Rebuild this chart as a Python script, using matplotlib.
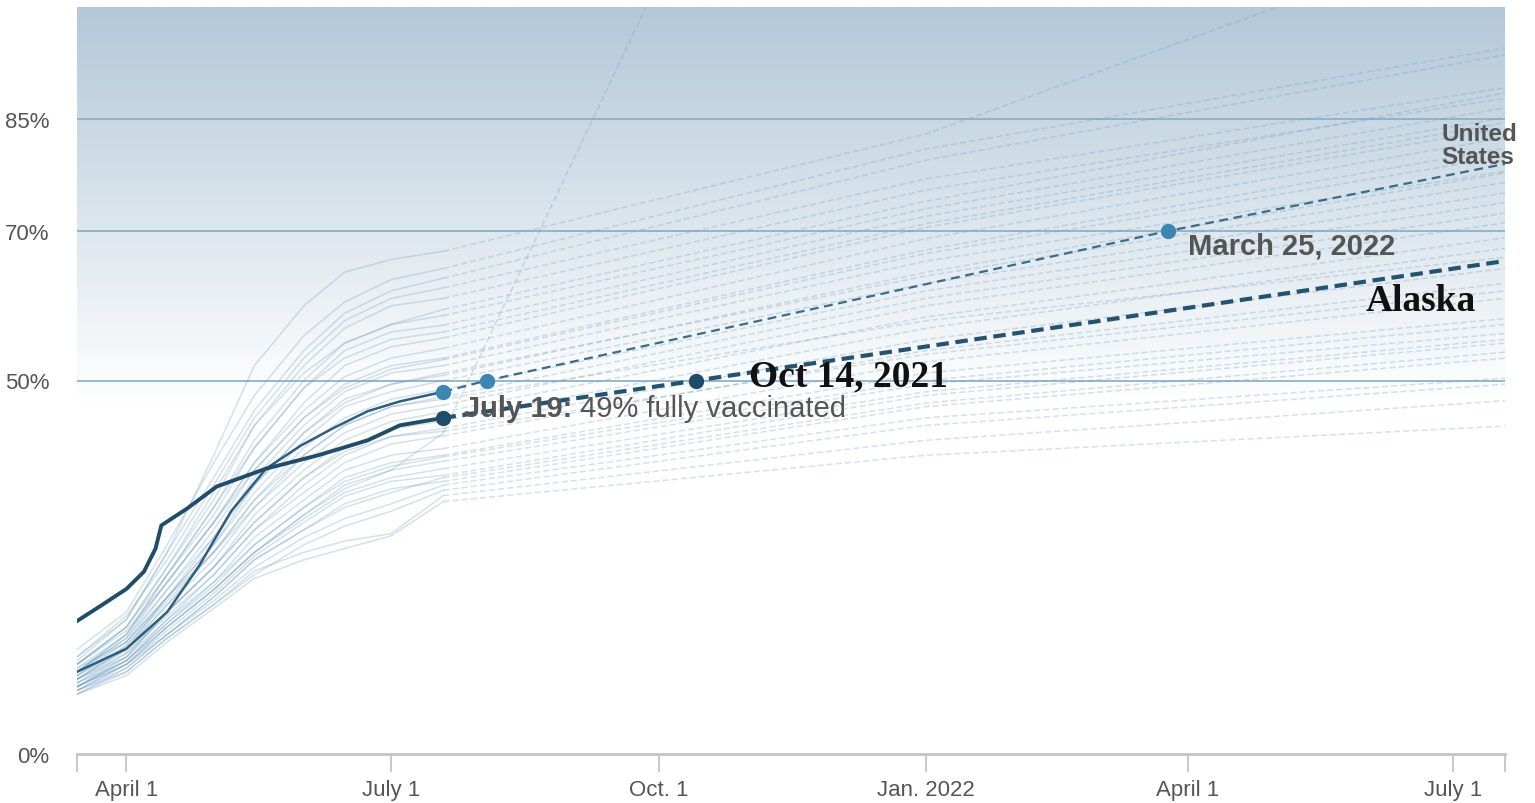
import numpy as np
import pandas as pd
import matplotlib
matplotlib.use("Agg")
import matplotlib.pyplot as plt
import matplotlib.dates as mdates
from matplotlib.colors import LinearSegmentedColormap

plt.rcParams["font.family"] = ["Liberation Sans", "DejaVu Sans"]

# share of population fully vaccinated (%)
grid_dates = pd.to_datetime(["2021-03-15", "2021-04-01", "2021-04-15", "2021-05-01", "2021-05-15",
                             "2021-06-01", "2021-06-15", "2021-07-01", "2021-07-19"])
proj_dates = pd.to_datetime(["2021-07-19", "2022-01-01", "2022-07-19"])

state_values = [
    [13.0, 18.0, 27.0, 40.0, 52.0, 60.0, 64.5, 66.2, 67.3],
    [14.0, 19.0, 28.0, 39.0, 48.0, 56.0, 60.5, 63.5, 65.0],
    [12.5, 18.0, 27.0, 37.0, 46.0, 54.0, 59.0, 62.0, 63.7],
    [13.0, 18.5, 26.0, 36.0, 45.0, 53.0, 58.0, 61.0, 62.4],
    [12.0, 17.0, 25.0, 34.0, 44.0, 52.0, 57.0, 60.0, 61.0],
    [12.0, 17.0, 25.0, 35.0, 44.0, 51.0, 55.0, 57.5, 59.5],
    [11.5, 16.0, 24.0, 33.0, 42.0, 50.0, 55.0, 57.5, 58.7],
    [12.0, 17.0, 24.0, 32.0, 41.0, 49.0, 54.0, 56.5, 57.4],
    [11.0, 16.0, 24.0, 33.0, 41.0, 49.0, 53.0, 55.5, 56.5],
    [11.0, 16.0, 23.0, 31.0, 39.0, 47.0, 52.0, 54.5, 55.7],
    [12.0, 16.5, 23.0, 31.0, 39.0, 46.0, 50.5, 53.0, 54.3],
    [10.5, 15.0, 22.0, 30.0, 38.0, 45.0, 49.5, 52.0, 53.0],
    [11.0, 15.5, 23.0, 31.0, 38.0, 45.0, 49.0, 51.5, 52.8],
    [11.0, 15.5, 22.0, 29.0, 37.0, 44.0, 48.5, 51.0, 52.0],
    [10.0, 14.0, 21.0, 29.0, 36.0, 43.0, 47.0, 49.5, 51.0],
    [11.5, 15.0, 21.0, 28.0, 36.0, 43.0, 47.5, 49.5, 50.7],
    [10.0, 14.5, 21.0, 28.0, 35.0, 42.0, 46.5, 48.5, 50.0],
    [10.5, 14.0, 20.0, 27.0, 34.0, 41.0, 45.0, 47.5, 48.8],
    [11.0, 15.0, 21.0, 27.0, 33.0, 40.0, 44.0, 46.5, 47.8],
    [10.5, 14.5, 20.5, 27.0, 34.0, 40.0, 44.0, 46.5, 47.5],
    [10.0, 14.0, 20.0, 26.0, 33.0, 39.0, 43.0, 45.5, 46.7],
    [9.5, 13.5, 19.0, 25.0, 32.0, 38.0, 42.0, 44.5, 45.8],
    [10.0, 13.0, 19.0, 25.0, 31.0, 37.0, 41.0, 43.5, 44.6],
    [9.0, 13.0, 18.0, 24.0, 30.0, 36.0, 40.0, 42.5, 43.6],
    [9.5, 13.0, 19.0, 25.0, 31.0, 37.0, 40.5, 42.5, 43.2],
    [10.0, 13.5, 18.5, 24.0, 30.0, 35.0, 39.0, 41.5, 42.6],
    [9.0, 12.5, 18.0, 23.0, 29.0, 34.0, 38.0, 40.0, 40.9],
    [9.5, 12.5, 17.5, 23.0, 28.0, 33.0, 37.0, 39.0, 40.0],
    [9.0, 12.5, 17.5, 22.5, 28.0, 33.0, 36.5, 38.5, 39.8],
    [8.5, 12.0, 17.0, 22.0, 27.0, 32.0, 36.0, 38.0, 39.2],
    [8.5, 12.0, 17.0, 22.0, 27.0, 31.5, 35.0, 37.0, 38.2],
    [9.0, 12.0, 16.5, 21.5, 26.5, 31.0, 34.5, 36.5, 37.3],
    [9.0, 12.0, 16.0, 21.0, 26.0, 30.0, 33.0, 35.0, 37.0],
    [8.0, 11.5, 16.0, 21.0, 26.0, 30.0, 33.5, 35.5, 36.5],
    [8.5, 11.5, 16.0, 20.5, 25.0, 29.0, 31.5, 33.5, 36.0],
    [8.0, 11.0, 15.5, 20.0, 24.0, 28.0, 30.5, 32.5, 35.3],
    [8.5, 11.0, 15.5, 20.0, 24.5, 27.0, 28.5, 29.5, 34.6],
    [8.0, 10.5, 15.0, 19.5, 23.5, 26.0, 27.5, 29.2, 33.8],
]
# projected share on Jan. 1, 2022 and July 19, 2022
state_proj = [
    [83.0, 111.0], [81.0, 94.5], [79.5, 93.6], [77.0, 89.2], [75.5, 87.8],
    [74.0, 88.5], [73.0, 86.5], [72.0, 85.2], [71.0, 84.5], [70.5, 83.8],
    [69.0, 82.5], [67.5, 81.1], [67.0, 80.0], [66.0, 78.0], [64.0, 76.5],
    [64.5, 77.8], [63.0, 75.1], [62.0, 73.8], [61.0, 72.4], [58.0, 66.5],
    [60.0, 71.1], [58.5, 69.1], [57.0, 67.7], [55.5, 65.0], [53.5, 62.0],
    [54.0, 63.0], [52.5, 61.0], [51.0, 58.3], [50.0, 57.5], [49.5, 56.3],
    [48.5, 55.5], [48.0, 55.0], [47.0, 53.8], [46.5, 53.0], [45.0, 50.3],
    [44.0, 49.5], [42.0, 47.3], [40.0, 43.9],
]

steep_values = [9.0, 12.5, 17.0, 22.0, 27.0, 32.0, 35.5, 38.0, 43.0]
steep_proj_dates = pd.to_datetime(["2021-07-19", "2021-10-15"])
steep_proj = [43.0, 115.0]

us_dates = pd.to_datetime(["2021-03-15", "2021-04-01", "2021-04-15", "2021-04-26", "2021-05-07", "2021-05-19",
                           "2021-05-31", "2021-06-11", "2021-06-23", "2021-07-04", "2021-07-19"])
us_values = [11.0, 14.1, 19.0, 25.2, 32.5, 38.2, 41.3, 43.6, 45.9, 47.2, 48.5]
us_proj_dates = pd.to_datetime(["2021-07-19", "2021-08-03", "2022-03-25", "2022-07-19"])
us_proj = [48.5, 50.0, 70.0, 79.0]

ak_dates = pd.to_datetime(["2021-03-15", "2021-03-23", "2021-04-01", "2021-04-07", "2021-04-11", "2021-04-13",
                           "2021-04-22", "2021-05-02", "2021-05-19", "2021-06-06", "2021-06-23", "2021-07-04",
                           "2021-07-19"])
ak_values = [17.8, 19.8, 22.1, 24.4, 27.5, 30.6, 32.9, 35.8, 38.2, 40.0, 42.0, 44.0, 45.0]
ak_proj_dates = pd.to_datetime(["2021-07-19", "2021-10-14", "2022-07-19"])
ak_proj = [45.0, 50.0, 66.0]

tick_dates = pd.to_datetime(["2021-03-15", "2021-04-01", "2021-07-01", "2021-10-01", "2022-01-01",
                             "2022-04-01", "2022-07-01", "2022-07-19"])
tick_labels = ["", "April 1", "July 1", "Oct. 1", "Jan. 2022", "April 1", "July 1", ""]

x0, x1 = pd.Timestamp("2021-03-15"), pd.Timestamp("2022-07-19")

fig = plt.figure(figsize=(15.35, 8.04), dpi=100)
ax = fig.add_axes([77 / 1535, 49 / 804, 1428 / 1535, 747 / 804])

# background fade: blue at the top to white around 50%
cmap = LinearSegmentedColormap.from_list("", ["#ffffff", "#b3c8d8"])
yy = np.linspace(0, 100, 400)
grad = np.clip((yy - 47) / 53, 0, 1)[:, None]
ax.imshow(grad, cmap=cmap, vmin=0, vmax=1, aspect="auto", origin="lower",
          extent=[mdates.date2num(x0), mdates.date2num(x1), 0, 100], zorder=0)

for g in [50, 70, 85]:
    ax.axhline(g, color="#8fb0c8", lw=1.3, zorder=1)

light = "#6e9dbf"
for vals, pr in zip(state_values, state_proj):
    ax.plot(grid_dates, vals, color=light, lw=1.1, alpha=0.3, zorder=2)
    ax.plot(proj_dates, [vals[-1]] + pr, color=light, lw=1.1, alpha=0.3,
            dashes=(4, 2), zorder=2)
ax.plot(grid_dates, steep_values, color=light, lw=1.1, alpha=0.3, zorder=2)
ax.plot(steep_proj_dates, steep_proj, color=light, lw=1.1, alpha=0.3, dashes=(4, 2), zorder=2)

# United States
ax.plot(us_dates, us_values, color="#2d5f80", lw=1.8, zorder=3)
ax.plot(us_proj_dates, us_proj, color="#3b6c8c", lw=1.6, dashes=(4, 2.5), zorder=3)
ax.plot([us_proj_dates[0], us_proj_dates[1], us_proj_dates[2]], [us_proj[0], us_proj[1], us_proj[2]],
        "o", color="#3b86b3", ms=10, zorder=4)

# Alaska
ax.plot(ak_dates, ak_values, color="#1f4c69", lw=2.8, zorder=3)
ax.plot(ak_proj_dates, ak_proj, color="#24536f", lw=3, dashes=(3, 1.6), zorder=3)
ax.plot([ak_proj_dates[0], ak_proj_dates[1]], [ak_proj[0], ak_proj[1]], "o",
        color="#1f4c69", ms=10, zorder=4)

# labels
t1 = ax.text(pd.Timestamp("2021-07-26"), 45.3, "July 19:", fontsize=21, fontweight="bold",
             color="#555555", va="baseline", zorder=5)
ax.annotate(" 49% fully vaccinated", xy=(1, 0), xycoords=t1, va="bottom", ha="left",
            fontsize=21, color="#555555", zorder=5)
ax.text(pd.Timestamp("2021-11-01"), 49.3, "Oct 14, 2021", fontsize=27, fontweight="bold",
        family="Liberation Serif", color="#111111", va="baseline", zorder=5)
ax.text(pd.Timestamp("2022-04-01"), 67.0, "March 25, 2022", fontsize=21, fontweight="bold",
        color="#555555", va="baseline", zorder=5)
ax.text(pd.Timestamp("2022-06-01"), 59.5, "Alaska", fontsize=27, fontweight="bold",
        family="Liberation Serif", color="#111111", va="baseline", zorder=5)
ax.text(pd.Timestamp("2022-06-27"), 84.6, "United\nStates", fontsize=17.5, fontweight="bold",
        color="#555555", va="top", linespacing=1.0, zorder=5)

ax.set_xlim(x0, x1)
ax.set_ylim(0, 100)
ax.set_xticks(tick_dates)
ax.set_xticklabels(tick_labels)
ax.set_yticks([0, 50, 70, 85])
ax.set_yticklabels(["0%", "50%", "70%", "85%"])
ax.tick_params(axis="x", length=13, width=1.3, color="#c4c4c4", labelsize=16, labelcolor="#555555", pad=5)
ax.tick_params(axis="y", length=0, labelsize=16, labelcolor="#555555", pad=20)

for s in ["top", "left", "right"]:
    ax.spines[s].set_visible(False)
ax.spines["bottom"].set_color("#c4c4c4")
ax.spines["bottom"].set_linewidth(2)

fig.savefig("out.png", dpi=100)
